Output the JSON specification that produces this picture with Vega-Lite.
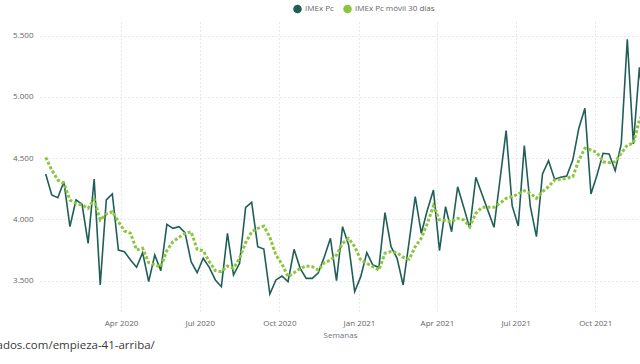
{
  "$schema": "https://vega.github.io/schema/vega-lite/v6.json",
  "width": 600,
  "height": 292,
  "autosize": {"type": "none"},
  "padding": {"left": 40, "top": 22, "right": 0, "bottom": 50},
  "background": "#ffffff",
  "config": {
    "view": {"stroke": null},
    "font": "Open Sans",
    "axis": {"labelFont": "Open Sans", "titleFont": "Open Sans"},
    "legend": {"labelFont": "Open Sans"}
  },
  "title": {
    "text": "iados.com/empieza-41-arriba/",
    "orient": "bottom",
    "anchor": "start",
    "frame": "bounds",
    "fontSize": 11.5,
    "fontWeight": "normal",
    "color": "#3a3a3a",
    "offset": 1,
    "dx": -19
  },
  "data": {
    "values": [
      {"semana": "2020-01-05", "imex": 4371, "movil": 4507},
      {"semana": "2020-01-12", "imex": 4200, "movil": 4404},
      {"semana": "2020-01-19", "imex": 4178, "movil": 4322},
      {"semana": "2020-01-26", "imex": 4308, "movil": 4295},
      {"semana": "2020-02-02", "imex": 3941, "movil": 4159},
      {"semana": "2020-02-09", "imex": 4159, "movil": 4132},
      {"semana": "2020-02-16", "imex": 4124, "movil": 4118},
      {"semana": "2020-02-23", "imex": 3805, "movil": 4091},
      {"semana": "2020-03-01", "imex": 4330, "movil": 4165},
      {"semana": "2020-03-08", "imex": 3465, "movil": 3996},
      {"semana": "2020-03-15", "imex": 4159, "movil": 4044},
      {"semana": "2020-03-22", "imex": 4208, "movil": 4063},
      {"semana": "2020-03-29", "imex": 3750, "movil": 3982},
      {"semana": "2020-04-05", "imex": 3737, "movil": 3906},
      {"semana": "2020-04-12", "imex": 3669, "movil": 3887},
      {"semana": "2020-04-19", "imex": 3609, "movil": 3751},
      {"semana": "2020-04-26", "imex": 3729, "movil": 3765},
      {"semana": "2020-05-03", "imex": 3492, "movil": 3647},
      {"semana": "2020-05-10", "imex": 3710, "movil": 3628},
      {"semana": "2020-05-17", "imex": 3582, "movil": 3614},
      {"semana": "2020-05-24", "imex": 3960, "movil": 3745},
      {"semana": "2020-05-31", "imex": 3927, "movil": 3818},
      {"semana": "2020-06-07", "imex": 3941, "movil": 3854},
      {"semana": "2020-06-14", "imex": 3892, "movil": 3887},
      {"semana": "2020-06-21", "imex": 3655, "movil": 3900},
      {"semana": "2020-06-28", "imex": 3565, "movil": 3756},
      {"semana": "2020-07-05", "imex": 3683, "movil": 3745},
      {"semana": "2020-07-12", "imex": 3609, "movil": 3655},
      {"semana": "2020-07-19", "imex": 3506, "movil": 3582},
      {"semana": "2020-07-26", "imex": 3451, "movil": 3573},
      {"semana": "2020-08-02", "imex": 3887, "movil": 3620},
      {"semana": "2020-08-09", "imex": 3547, "movil": 3601},
      {"semana": "2020-08-16", "imex": 3642, "movil": 3683},
      {"semana": "2020-08-23", "imex": 4099, "movil": 3810},
      {"semana": "2020-08-30", "imex": 4140, "movil": 3900},
      {"semana": "2020-09-06", "imex": 3778, "movil": 3927},
      {"semana": "2020-09-13", "imex": 3759, "movil": 3946},
      {"semana": "2020-09-20", "imex": 3391, "movil": 3854},
      {"semana": "2020-09-27", "imex": 3506, "movil": 3710},
      {"semana": "2020-10-04", "imex": 3538, "movil": 3635},
      {"semana": "2020-10-11", "imex": 3492, "movil": 3533},
      {"semana": "2020-10-18", "imex": 3756, "movil": 3565},
      {"semana": "2020-10-25", "imex": 3601, "movil": 3601},
      {"semana": "2020-11-01", "imex": 3519, "movil": 3620},
      {"semana": "2020-11-08", "imex": 3519, "movil": 3614},
      {"semana": "2020-11-15", "imex": 3565, "movil": 3587},
      {"semana": "2020-11-22", "imex": 3696, "movil": 3647},
      {"semana": "2020-11-29", "imex": 3846, "movil": 3669},
      {"semana": "2020-12-06", "imex": 3500, "movil": 3710},
      {"semana": "2020-12-13", "imex": 3941, "movil": 3805},
      {"semana": "2020-12-20", "imex": 3791, "movil": 3846},
      {"semana": "2020-12-27", "imex": 3410, "movil": 3778},
      {"semana": "2021-01-03", "imex": 3533, "movil": 3669},
      {"semana": "2021-01-10", "imex": 3729, "movil": 3642},
      {"semana": "2021-01-17", "imex": 3628, "movil": 3614},
      {"semana": "2021-01-24", "imex": 3609, "movil": 3587},
      {"semana": "2021-01-31", "imex": 4055, "movil": 3724},
      {"semana": "2021-02-07", "imex": 3778, "movil": 3737},
      {"semana": "2021-02-14", "imex": 3683, "movil": 3729},
      {"semana": "2021-02-21", "imex": 3465, "movil": 3691},
      {"semana": "2021-02-28", "imex": 3823, "movil": 3675},
      {"semana": "2021-03-07", "imex": 4186, "movil": 3778},
      {"semana": "2021-03-14", "imex": 3887, "movil": 3846},
      {"semana": "2021-03-21", "imex": 4077, "movil": 3969},
      {"semana": "2021-03-28", "imex": 4240, "movil": 4110},
      {"semana": "2021-04-04", "imex": 3745, "movil": 3996},
      {"semana": "2021-04-11", "imex": 4104, "movil": 3990},
      {"semana": "2021-04-18", "imex": 3900, "movil": 3982},
      {"semana": "2021-04-25", "imex": 4267, "movil": 4009},
      {"semana": "2021-05-02", "imex": 4100, "movil": 3996},
      {"semana": "2021-05-09", "imex": 3927, "movil": 3941},
      {"semana": "2021-05-16", "imex": 4344, "movil": 4050},
      {"semana": "2021-05-23", "imex": 4208, "movil": 4099},
      {"semana": "2021-05-30", "imex": 4072, "movil": 4099},
      {"semana": "2021-06-06", "imex": 3936, "movil": 4099},
      {"semana": "2021-06-13", "imex": 4330, "movil": 4132},
      {"semana": "2021-06-20", "imex": 4725, "movil": 4172},
      {"semana": "2021-06-27", "imex": 4110, "movil": 4186},
      {"semana": "2021-07-04", "imex": 3946, "movil": 4208},
      {"semana": "2021-07-11", "imex": 4604, "movil": 4235},
      {"semana": "2021-07-18", "imex": 4104, "movil": 4213},
      {"semana": "2021-07-25", "imex": 3859, "movil": 4172},
      {"semana": "2021-08-01", "imex": 4371, "movil": 4227},
      {"semana": "2021-08-08", "imex": 4480, "movil": 4267},
      {"semana": "2021-08-15", "imex": 4328, "movil": 4322},
      {"semana": "2021-08-22", "imex": 4345, "movil": 4328},
      {"semana": "2021-08-29", "imex": 4355, "movil": 4336},
      {"semana": "2021-09-05", "imex": 4485, "movil": 4349},
      {"semana": "2021-09-12", "imex": 4744, "movil": 4485},
      {"semana": "2021-09-19", "imex": 4907, "movil": 4581},
      {"semana": "2021-09-26", "imex": 4208, "movil": 4567},
      {"semana": "2021-10-03", "imex": 4363, "movil": 4545},
      {"semana": "2021-10-10", "imex": 4540, "movil": 4471},
      {"semana": "2021-10-17", "imex": 4534, "movil": 4463},
      {"semana": "2021-10-24", "imex": 4398, "movil": 4471},
      {"semana": "2021-10-31", "imex": 4616, "movil": 4540},
      {"semana": "2021-11-07", "imex": 5471, "movil": 4608},
      {"semana": "2021-11-14", "imex": 4616, "movil": 4621},
      {"semana": "2021-11-21", "imex": 5242, "movil": 4812},
      {"semana": "2021-11-28", "imex": 4750, "movil": 4900}
    ]
  },
  "transform": [
    {"fold": ["imex", "movil"], "as": ["serie_key", "valor"]},
    {"lookup": "serie_key", "from": {"data": {"values": [
      {"serie_key": "imex", "serie": "IMEx Pc"},
      {"serie_key": "movil", "serie": "IMEx Pc móvil 30 días"}
    ]}, "key": "serie_key", "fields": ["serie"]}}
  ],
  "layer": [
    {
      "transform": [{"filter": "datum.serie_key === 'imex'"}],
      "mark": {"type": "line", "clip": true, "strokeWidth": 1.6},
      "encoding": {
        "x": {"field": "semana", "type": "temporal"},
        "y": {"field": "valor", "type": "quantitative"},
        "color": {"field": "serie", "type": "nominal"}
      }
    },
    {
      "transform": [{"filter": "datum.serie_key === 'movil'"}],
      "mark": {"type": "line", "clip": true, "strokeWidth": 3, "strokeDash": [3, 2]},
      "encoding": {
        "x": {"field": "semana", "type": "temporal"},
        "y": {"field": "valor", "type": "quantitative"},
        "color": {"field": "serie", "type": "nominal"}
      }
    }
  ],
  "encoding": {
    "x": {
      "field": "semana",
      "type": "temporal",
      "title": "Semanas",
      "scale": {"type": "utc", "domain": ["2019-12-29T10:00:00Z", "2021-11-21T16:00:00Z"], "nice": false},
      "axis": {
        "values": [
          {"year": 2020, "month": 4, "date": 1, "utc": true},
          {"year": 2020, "month": 7, "date": 1, "utc": true},
          {"year": 2020, "month": 10, "date": 1, "utc": true},
          {"year": 2021, "month": 1, "date": 1, "utc": true},
          {"year": 2021, "month": 4, "date": 1, "utc": true},
          {"year": 2021, "month": 7, "date": 1, "utc": true},
          {"year": 2021, "month": 10, "date": 1, "utc": true}
        ],
        "labelExpr": "utcFormat(datum.value, '%b %Y')",
        "domain": false,
        "ticks": false,
        "grid": true,
        "gridColor": "#d0d0d0",
        "gridDash": [1, 3],
        "gridWidth": 1,
        "labelColor": "#666666",
        "labelFontSize": 8,
        "labelPadding": 5,
        "titleColor": "#6a7580",
        "titleFontSize": 8,
        "titleFontWeight": "normal",
        "titlePadding": 4
      }
    },
    "y": {
      "field": "valor",
      "type": "quantitative",
      "title": null,
      "scale": {"domain": [3228, 5612], "nice": false, "zero": false},
      "axis": {
        "values": [3500, 4000, 4500, 5000, 5500],
        "labelExpr": "replace(format(datum.value, ','), ',', '.')",
        "domain": false,
        "ticks": false,
        "grid": true,
        "gridColor": "#d0d0d0",
        "gridDash": [1, 3],
        "gridWidth": 1,
        "labelColor": "#666666",
        "labelFontSize": 8,
        "labelPadding": 7
      }
    },
    "color": {
      "field": "serie",
      "type": "nominal",
      "scale": {"domain": ["IMEx Pc", "IMEx Pc móvil 30 días"], "range": ["#1f5f57", "#8cc63f"]},
      "legend": {
        "title": null,
        "orient": "none",
        "direction": "horizontal",
        "legendX": 253,
        "legendY": -18,
        "symbolType": "circle",
        "symbolSize": 50,
        "labelFontSize": 8,
        "labelColor": "#666666",
        "columnPadding": 6,
        "labelOffset": 3,
        "encode": {
          "symbols": {
            "update": {
              "fill": {"scale": "color", "field": "value"},
              "stroke": {"value": "transparent"},
              "strokeDash": {"value": []},
              "opacity": {"value": 1}
            }
          }
        }
      }
    }
  }
}
